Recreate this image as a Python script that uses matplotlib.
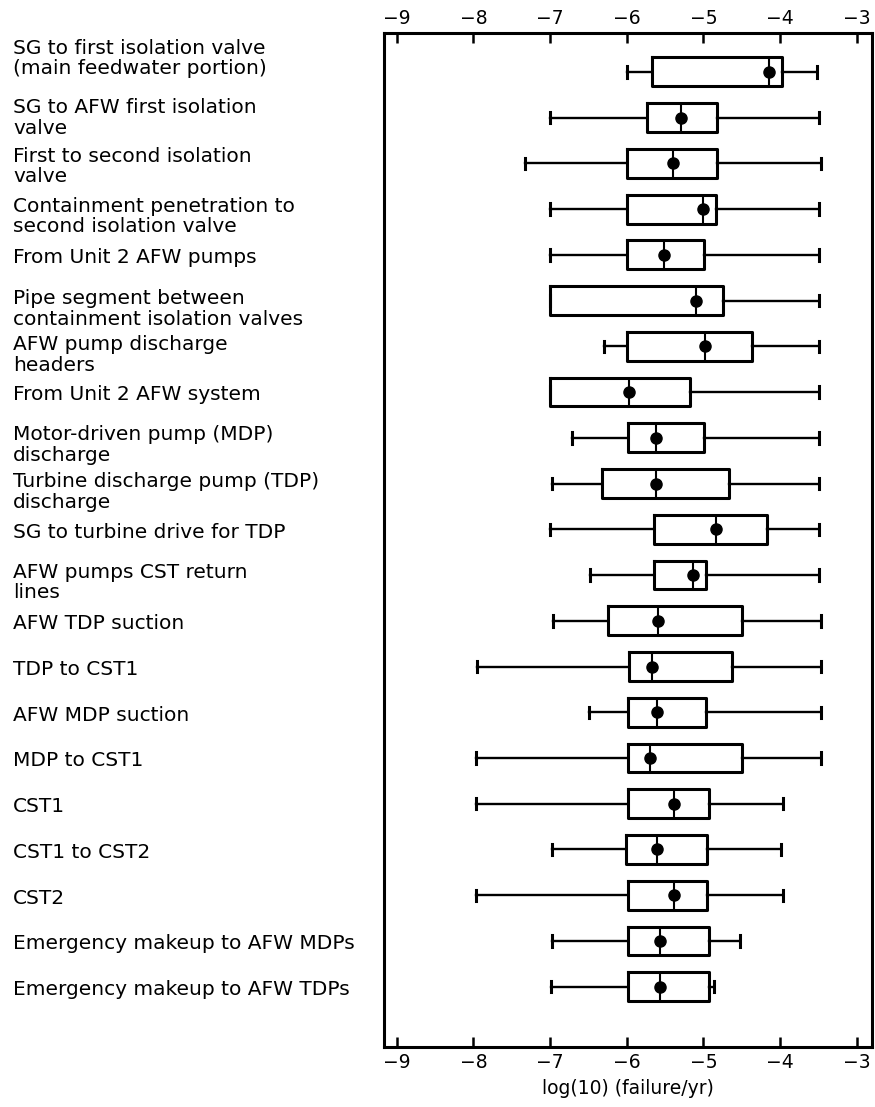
import numpy as np
import matplotlib.pyplot as plt
import matplotlib.transforms as mtransforms

plt.rcParams['font.family'] = ['DejaVu Sans']

# pipe segments, top to bottom
segments = [
    "SG to first isolation valve\n(main feedwater portion)",
    "SG to AFW first isolation\nvalve",
    "First to second isolation\nvalve",
    "Containment penetration to\nsecond isolation valve",
    "From Unit 2 AFW pumps",
    "Pipe segment between\ncontainment isolation valves",
    "AFW pump discharge\nheaders",
    "From Unit 2 AFW system",
    "Motor-driven pump (MDP)\ndischarge",
    "Turbine discharge pump (TDP)\ndischarge",
    "SG to turbine drive for TDP",
    "AFW pumps CST return\nlines",
    "AFW TDP suction",
    "TDP to CST1",
    "AFW MDP suction",
    "MDP to CST1",
    "CST1",
    "CST1 to CST2",
    "CST2",
    "Emergency makeup to AFW MDPs",
    "Emergency makeup to AFW TDPs",
]

# log10(failure/yr)
whis_lo = [-6.0, -7.0, -7.33, -7.0, -7.0, -7.0, -6.3, -7.0, -6.72, -6.98, -7.0,
           -6.48, -6.96, -7.95, -6.49, -7.96, -7.97, -6.98, -7.97, -6.98, -6.99]
box_lo = [-5.67, -5.73, -6.0, -6.0, -6.0, -7.0, -6.0, -7.0, -5.98, -6.32, -5.65,
          -5.65, -6.24, -5.97, -5.99, -5.99, -5.99, -6.01, -5.99, -5.98, -5.99]
box_hi = [-3.97, -4.82, -4.82, -4.83, -4.99, -4.75, -4.37, -5.17, -4.99, -4.67, -4.17,
          -4.97, -4.49, -4.63, -4.97, -4.5, -4.93, -4.95, -4.95, -4.93, -4.93]
point = [-4.14, -5.29, -5.39, -5.01, -5.52, -5.09, -4.98, -5.97, -5.62, -5.62, -4.83,
         -5.14, -5.59, -5.67, -5.6, -5.7, -5.38, -5.61, -5.38, -5.57, -5.57]
whis_hi = [-3.52, -3.49, -3.46, -3.49, -3.49, -3.49, -3.49, -3.49, -3.49, -3.49, -3.49,
           -3.49, -3.46, -3.46, -3.46, -3.46, -3.96, -3.99, -3.96, -4.52, -4.86]

stats = []
for i in range(len(segments)):
    stats.append(dict(whislo=whis_lo[i], q1=box_lo[i], med=point[i],
                      q3=box_hi[i], whishi=whis_hi[i], mean=point[i], fliers=[]))

fig = plt.figure(figsize=(8.75, 11.07), dpi=100)
ax = fig.add_axes([0.439, 0.0542, 0.5576, 0.9158])

pos = np.arange(len(segments))
ax.bxp(stats, positions=pos, widths=0.63, capwidths=0.25,
       orientation='horizontal', showmeans=True, meanline=False,
       boxprops=dict(color='black', linewidth=2.2),
       whiskerprops=dict(color='black', linewidth=1.7),
       capprops=dict(color='black', linewidth=2.2),
       medianprops=dict(color='black', linewidth=1.5),
       meanprops=dict(marker='o', markerfacecolor='black',
                      markeredgecolor='black', markersize=8))

ax.set_xlim(-9.165, -2.80)
ax.set_ylim(len(segments) - 1 + 1.318, -0.846)
ax.set_xticks(np.arange(-9, -2, 1))
ax.set_xticklabels([str(v).replace('-', '\u2212') for v in range(-9, -2)])
ax.tick_params(axis='x', direction='in', top=True, labeltop=True, length=7,
               width=1.8, labelsize=13.5, pad=4)
ax.set_yticks([])
for s in ax.spines.values():
    s.set_linewidth(2.2)
ax.set_xlabel("log(10) (failure/yr)", fontsize=13.5, labelpad=5)

# segment names on the left
trans = mtransforms.blended_transform_factory(fig.transFigure, ax.transData)
shift = {0: 16, 1: 6, 2: 4, 3: 1, 8: 1, 11: 1}
for i, name in enumerate(segments):
    if '\n' in name:
        ax.annotate(name, xy=(0.015, i), xycoords=trans,
                    xytext=(0, 8 + shift.get(i, 0)), textcoords='offset points',
                    ha='left', va='top', fontsize=14.5, linespacing=1.1,
                    annotation_clip=False)
    else:
        ax.annotate(name, xy=(0.015, i), xycoords=trans,
                    xytext=(0, -2), textcoords='offset points',
                    ha='left', va='center', fontsize=14.5, annotation_clip=False)

fig.savefig('out.png', dpi=100)
